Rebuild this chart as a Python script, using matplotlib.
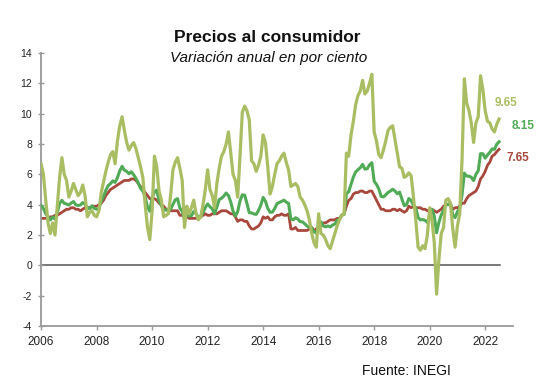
import numpy as np
import matplotlib.pyplot as plt

plt.rcParams["font.family"] = ["Liberation Sans", "DejaVu Sans"]
plt.rcParams["axes.unicode_minus"] = False

# Precios al consumidor, variación anual (%), mensual ene-2006 a jul-2022
start_year = 2006

general = [
    3.94, 3.75, 3.41, 3.20, 3.00, 3.18, 3.06, 3.47, 4.09, 4.29, 4.09, 4.05,
    3.98, 4.11, 4.21, 3.99, 3.95, 3.98, 4.14, 4.03, 3.79, 3.74, 3.93, 3.76,
    3.70, 3.72, 4.25, 4.55, 4.95, 5.26, 5.39, 5.57, 5.47, 5.78, 6.23, 6.53,
    6.28, 6.20, 6.04, 6.17, 5.98, 5.74, 5.44, 5.08, 4.89, 4.50, 3.86, 3.57,
    4.46, 4.83, 4.97, 4.27, 3.92, 3.69, 3.64, 3.68, 3.70, 4.02, 4.32, 4.40,
    3.78, 3.57, 3.04, 3.36, 3.25, 3.28, 3.55, 3.42, 3.14, 3.20, 3.48, 3.82,
    4.05, 3.87, 3.73, 3.41, 3.85, 4.34, 4.42, 4.57, 4.77, 4.60, 4.18, 3.57,
    3.25, 3.55, 4.25, 4.65, 4.63, 4.09, 3.47, 3.46, 3.39, 3.36, 3.62, 3.97,
    4.48, 4.23, 3.76, 3.50, 3.51, 3.75, 4.07, 4.15, 4.22, 4.30, 4.17, 4.08,
    3.07, 3.00, 3.14, 3.06, 2.88, 2.87, 2.74, 2.59, 2.52, 2.48, 2.21, 2.13,
    2.61, 2.87, 2.60, 2.54, 2.60, 2.54, 2.65, 2.73, 2.97, 3.06, 3.31, 3.36,
    4.72, 4.86, 5.35, 5.82, 6.16, 6.31, 6.44, 6.66, 6.35, 6.37, 6.63, 6.77,
    5.55, 5.34, 5.04, 4.55, 4.51, 4.65, 4.81, 4.90, 5.02, 4.90, 4.72, 4.83,
    4.37, 3.94, 4.00, 4.41, 4.28, 3.95, 3.78, 3.16, 3.00, 3.02, 2.97, 2.83,
    3.24, 3.70, 3.25, 2.15, 2.84, 3.33, 3.62, 4.05, 4.01, 4.09, 3.33, 3.15,
    3.54, 3.76, 4.67, 6.08, 5.89, 5.88, 5.81, 5.59, 6.00, 6.24, 7.37, 7.36,
    7.07, 7.28, 7.45, 7.68, 7.65, 7.99, 8.15,
]

subyacente = [
    3.1, 3.1, 3.1, 3.1, 3.2, 3.2, 3.3, 3.3, 3.4, 3.5, 3.6, 3.7,
    3.7, 3.8, 3.8, 3.7, 3.7, 3.6, 3.7, 3.8, 3.8, 3.8, 3.9, 3.9,
    3.9, 4.0, 4.1, 4.3, 4.6, 4.8, 5.0, 5.1, 5.2, 5.3, 5.4, 5.5,
    5.6, 5.6, 5.6, 5.7, 5.7, 5.6, 5.4, 5.2, 5.0, 4.8, 4.6, 4.4,
    4.4, 4.4, 4.3, 4.1, 4.0, 3.9, 3.7, 3.7, 3.6, 3.6, 3.6, 3.6,
    3.3, 3.3, 3.2, 3.2, 3.1, 3.1, 3.1, 3.1, 3.2, 3.2, 3.3, 3.4,
    3.3, 3.3, 3.4, 3.4, 3.4, 3.5, 3.6, 3.6, 3.6, 3.5, 3.4, 3.4,
    3.2, 2.9, 3.0, 3.0, 2.9, 2.9, 2.6, 2.4, 2.4, 2.5, 2.6, 2.8,
    3.2, 3.1, 3.2, 3.0, 3.0, 3.2, 3.3, 3.3, 3.4, 3.3, 3.3, 3.4,
    2.4, 2.4, 2.5, 2.3, 2.3, 2.3, 2.3, 2.3, 2.4, 2.5, 2.3, 2.4,
    2.5, 2.6, 2.8, 2.8, 2.9, 3.0, 3.0, 3.0, 3.1, 3.1, 3.3, 3.4,
    3.9, 4.3, 4.4, 4.7, 4.8, 4.8, 4.9, 4.9, 4.8, 4.8, 4.9, 4.9,
    4.6, 4.3, 4.0, 3.7, 3.7, 3.6, 3.6, 3.6, 3.7, 3.7, 3.6, 3.7,
    3.6, 3.5, 3.6, 3.9, 3.8, 3.9, 3.8, 3.8, 3.8, 3.7, 3.7, 3.6,
    3.7, 3.7, 3.6, 3.5, 3.6, 3.7, 3.9, 4.0, 4.0, 4.0, 3.7, 3.8,
    3.8, 3.9, 4.1, 4.1, 4.4, 4.6, 4.7, 4.8, 4.9, 5.2, 5.7, 5.9,
    6.2, 6.6, 6.8, 7.2, 7.3, 7.5, 7.65,
]

no_subyacente = [
    6.7, 6.0, 4.3, 2.8, 2.1, 2.8, 2.0, 3.9, 5.8, 7.1, 6.0, 5.6,
    4.5, 4.9, 5.4, 5.0, 4.6, 4.8, 5.3, 4.6, 3.2, 3.5, 3.6, 3.3,
    3.2, 3.6, 4.8, 5.5, 6.2, 6.8, 7.3, 7.5, 6.7, 8.2, 9.2, 9.8,
    8.9, 8.1, 7.6, 7.9, 8.1, 7.7, 7.1, 6.5, 5.8, 4.0, 2.5, 1.7,
    3.6, 7.2, 6.5, 4.9, 4.3, 3.2, 3.3, 3.4, 4.6, 6.3, 6.8, 7.1,
    6.4, 5.6, 2.5, 3.9, 3.4, 3.8, 4.3, 3.4, 3.0, 3.2, 4.0, 5.0,
    6.3, 5.0, 4.6, 3.8, 5.4, 6.4, 7.2, 7.5, 8.0, 8.8, 7.4, 6.0,
    5.6, 4.5, 7.2, 10.1, 10.5, 10.2, 9.6, 6.9, 6.7, 6.2, 6.6, 7.2,
    8.6, 8.1, 6.5, 4.7, 5.2, 6.0, 6.7, 6.9, 7.2, 7.4, 6.8, 6.3,
    5.2, 5.3, 5.4, 5.2, 4.5, 4.3, 4.0, 3.6, 3.0, 2.1, 1.5, 1.2,
    3.4, 2.1, 2.0, 1.7, 1.3, 1.1, 1.6, 2.1, 2.6, 3.0, 3.3, 3.4,
    7.4, 7.2, 8.6, 9.5, 10.6, 11.2, 11.5, 12.2, 11.3, 11.5, 12.0, 12.6,
    8.8, 8.2, 7.3, 7.1, 7.6, 8.2, 8.9, 9.1, 9.2, 8.3, 7.4, 6.5,
    6.4, 5.8, 5.9, 6.1, 5.9, 4.5, 3.0, 1.2, 1.0, 1.3, 1.1, 2.0,
    3.8, 3.0, 1.5, -1.9, 0.4, 2.1, 2.5, 4.3, 4.4, 4.1, 2.4, 1.2,
    2.6, 3.4, 7.0, 12.3, 10.7, 10.2, 9.4, 8.1, 9.4, 9.8, 12.5, 11.6,
    10.2, 9.5, 9.4, 9.0, 8.8, 9.3, 9.65,
]

yticks = list(range(-4, 15, 2))
xticks = list(range(2006, 2023, 2))

c_nosub = "#a9bd62"
c_gen = "#50aa56"
c_sub = "#a8473c"

t = start_year + np.arange(len(general)) / 12

fig = plt.figure(figsize=(5.48, 3.9), dpi=100)
ax = fig.add_axes([0.075, 0.164, 0.861, 0.700])

ax.axhline(0, xmin=0, xmax=(2022.55 - 2006) / 17, color="#555555", lw=1.1, zorder=1)
ax.plot(t, subyacente, color=c_sub, lw=2.0, zorder=2)
ax.plot(t, general, color=c_gen, lw=2.2, zorder=3)
ax.plot(t, no_subyacente, color=c_nosub, lw=2.3, zorder=4)

labels = [
    (no_subyacente, c_nosub, "9.65", (7, 16)),
    (general, c_gen, "8.15", (24, 16)),
    (subyacente, c_sub, "7.65", (19, -9)),
]
for serie, color, txt, off in labels:
    ax.annotate(txt, (t[-1], serie[-1]), xytext=off, textcoords="offset pixels",
                ha="center", va="center", color=color, fontsize=8.5,
                fontweight="bold")

ax.set_xlim(2006, 2023)
ax.set_ylim(-4, 14)
ax.set_xticks(xticks)
ax.set_yticks(yticks)
ax.tick_params(axis="y", direction="inout", length=5, width=1, color="#999999",
               labelsize=7.5, labelcolor="#222222", pad=4)
ax.tick_params(axis="x", direction="out", length=3, width=1, color="#999999",
               labelsize=8.5, labelcolor="#222222", pad=4)

for side in ["top", "right"]:
    ax.spines[side].set_visible(False)
for side in ["left", "bottom"]:
    ax.spines[side].set_color("#999999")
    ax.spines[side].set_linewidth(1.3)

fig.text(0.487, 0.905, "Precios al consumidor", ha="center", va="center",
         fontsize=12.5, fontweight="bold", color="#111111")
fig.text(0.49, 0.852, "Variación anual en por ciento", ha="center", va="center",
         fontsize=11, style="italic", color="#111111")
fig.text(0.741, 0.049, "Fuente: INEGI", ha="center", va="center",
         fontsize=10, color="#111111")

fig.savefig("out.png", dpi=100)
